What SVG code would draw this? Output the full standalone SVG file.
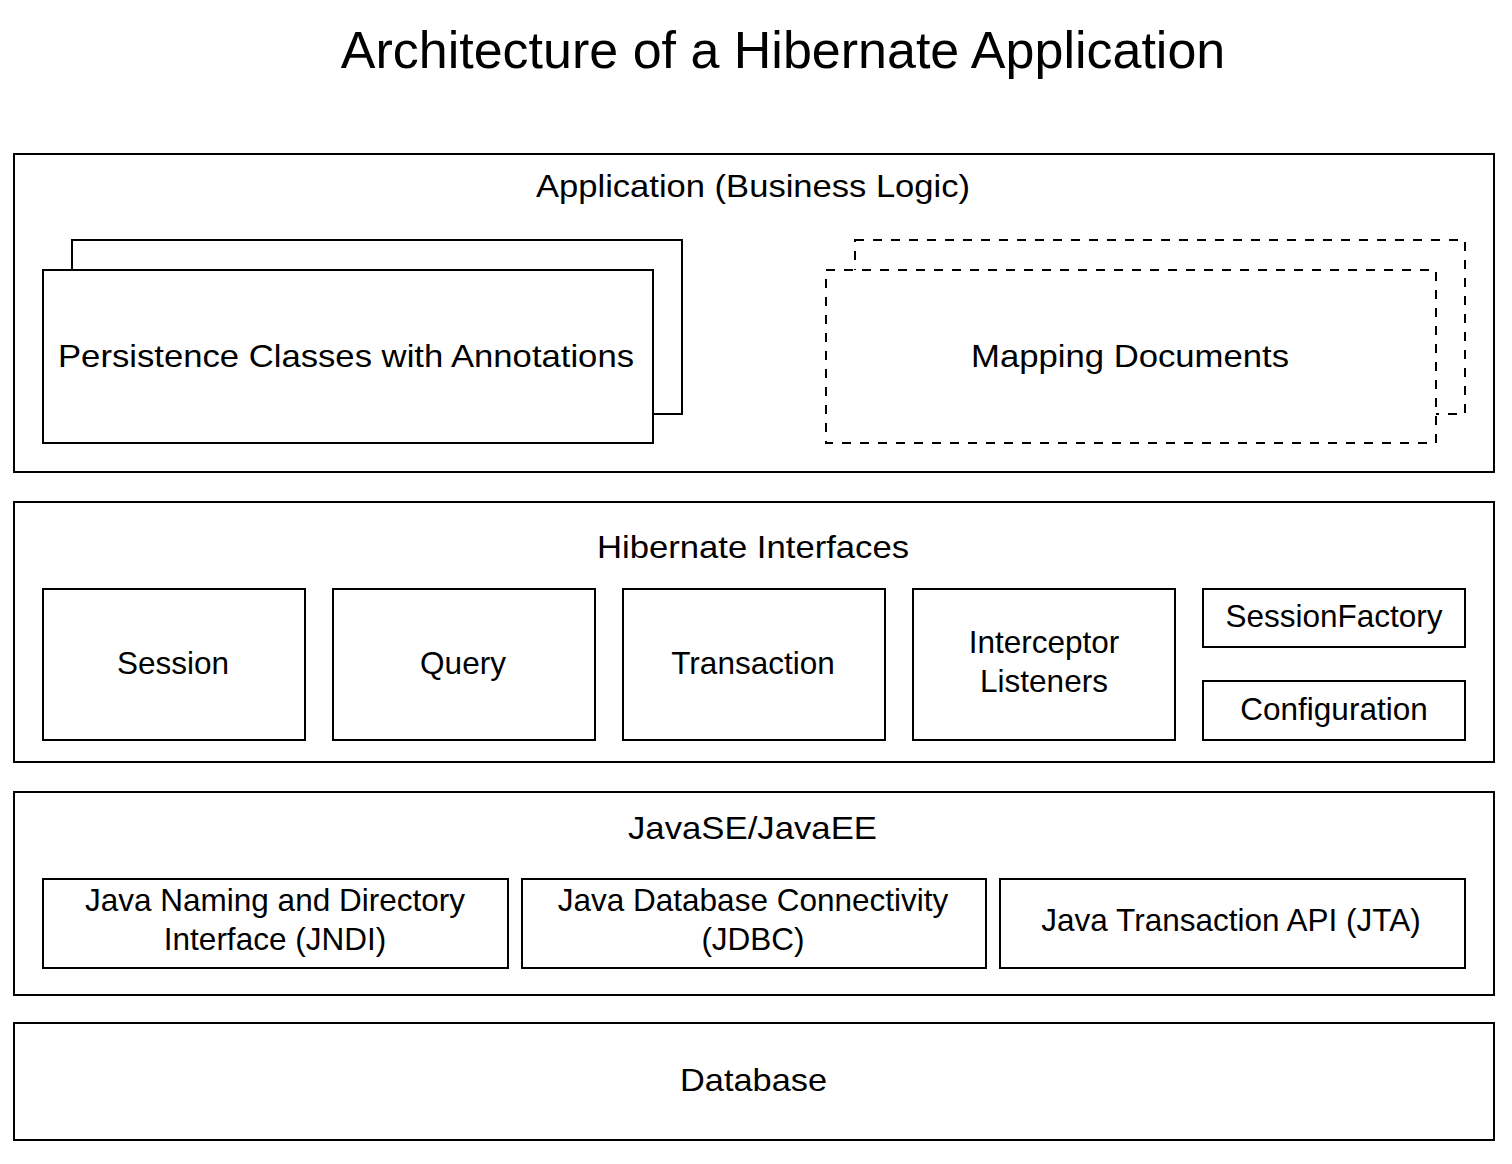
<svg xmlns="http://www.w3.org/2000/svg" width="1512" height="1164" viewBox="0 0 1512 1164">
<style>
rect{fill:#fff;stroke:#000;stroke-width:2}
.d{stroke-dasharray:9 9}
text{font-family:"Liberation Sans",Arial,Helvetica,sans-serif;font-size:31.5px;fill:#000;text-anchor:middle}
.t{font-size:52px}
.w{font-size:32px;text-anchor:start}
</style>
<rect x="0" y="0" width="1512" height="1164" style="stroke:none"/>
<text class="t" x="783" y="68">Architecture of a Hibernate Application</text>
<g id="application">
<rect x="14" y="154" width="1480" height="318"/>
<text class="w" x="536" y="197" textLength="434" lengthAdjust="spacingAndGlyphs">Application (Business Logic)</text>
</g>
<g id="persistence">
<rect x="72" y="240" width="610" height="174"/>
<rect x="43" y="270" width="610" height="173"/>
<text class="w" x="58" y="367" textLength="576" lengthAdjust="spacingAndGlyphs">Persistence Classes with Annotations</text>
</g>
<g id="mapping">
<rect class="d" x="855" y="240" width="610" height="174"/>
<rect class="d" x="826" y="270" width="610" height="173"/>
<text class="w" x="971" y="367" textLength="318" lengthAdjust="spacingAndGlyphs">Mapping Documents</text>
</g>
<g id="hibernate">
<rect x="14" y="502" width="1480" height="260"/>
<text class="w" x="597" y="558" textLength="312" lengthAdjust="spacingAndGlyphs">Hibernate Interfaces</text>
</g>
<g id="session"><rect x="43" y="589" width="262" height="151"/><text x="173" y="674">Session</text></g>
<g id="query"><rect x="333" y="589" width="262" height="151"/><text x="463" y="674">Query</text></g>
<g id="transaction"><rect x="623" y="589" width="262" height="151"/><text x="753" y="674">Transaction</text></g>
<g id="interceptor"><rect x="913" y="589" width="262" height="151"/><text x="1044" y="653">Interceptor</text><text x="1044" y="692">Listeners</text></g>
<g id="sessionfactory"><rect x="1203" y="589" width="262" height="58"/><text x="1334" y="627">SessionFactory</text></g>
<g id="configuration"><rect x="1203" y="681" width="262" height="59"/><text x="1334" y="720">Configuration</text></g>
<g id="java">
<rect x="14" y="792" width="1480" height="203"/>
<text class="w" x="628" y="839" textLength="249" lengthAdjust="spacingAndGlyphs">JavaSE/JavaEE</text>
</g>
<g id="jndi"><rect x="43" y="879" width="465" height="89"/><text x="275" y="911">Java Naming and Directory</text><text x="275" y="950">Interface (JNDI)</text></g>
<g id="jdbc"><rect x="522" y="879" width="464" height="89"/><text x="753" y="911">Java Database Connectivity</text><text x="753" y="950">(JDBC)</text></g>
<g id="jta"><rect x="1000" y="879" width="465" height="89"/><text x="1231" y="931">Java Transaction API (JTA)</text></g>
<g id="database">
<rect x="14" y="1023" width="1480" height="117"/>
<text class="w" x="680" y="1091" textLength="147" lengthAdjust="spacingAndGlyphs">Database</text>
</g>
<g id="connectors"></g>
</svg>
